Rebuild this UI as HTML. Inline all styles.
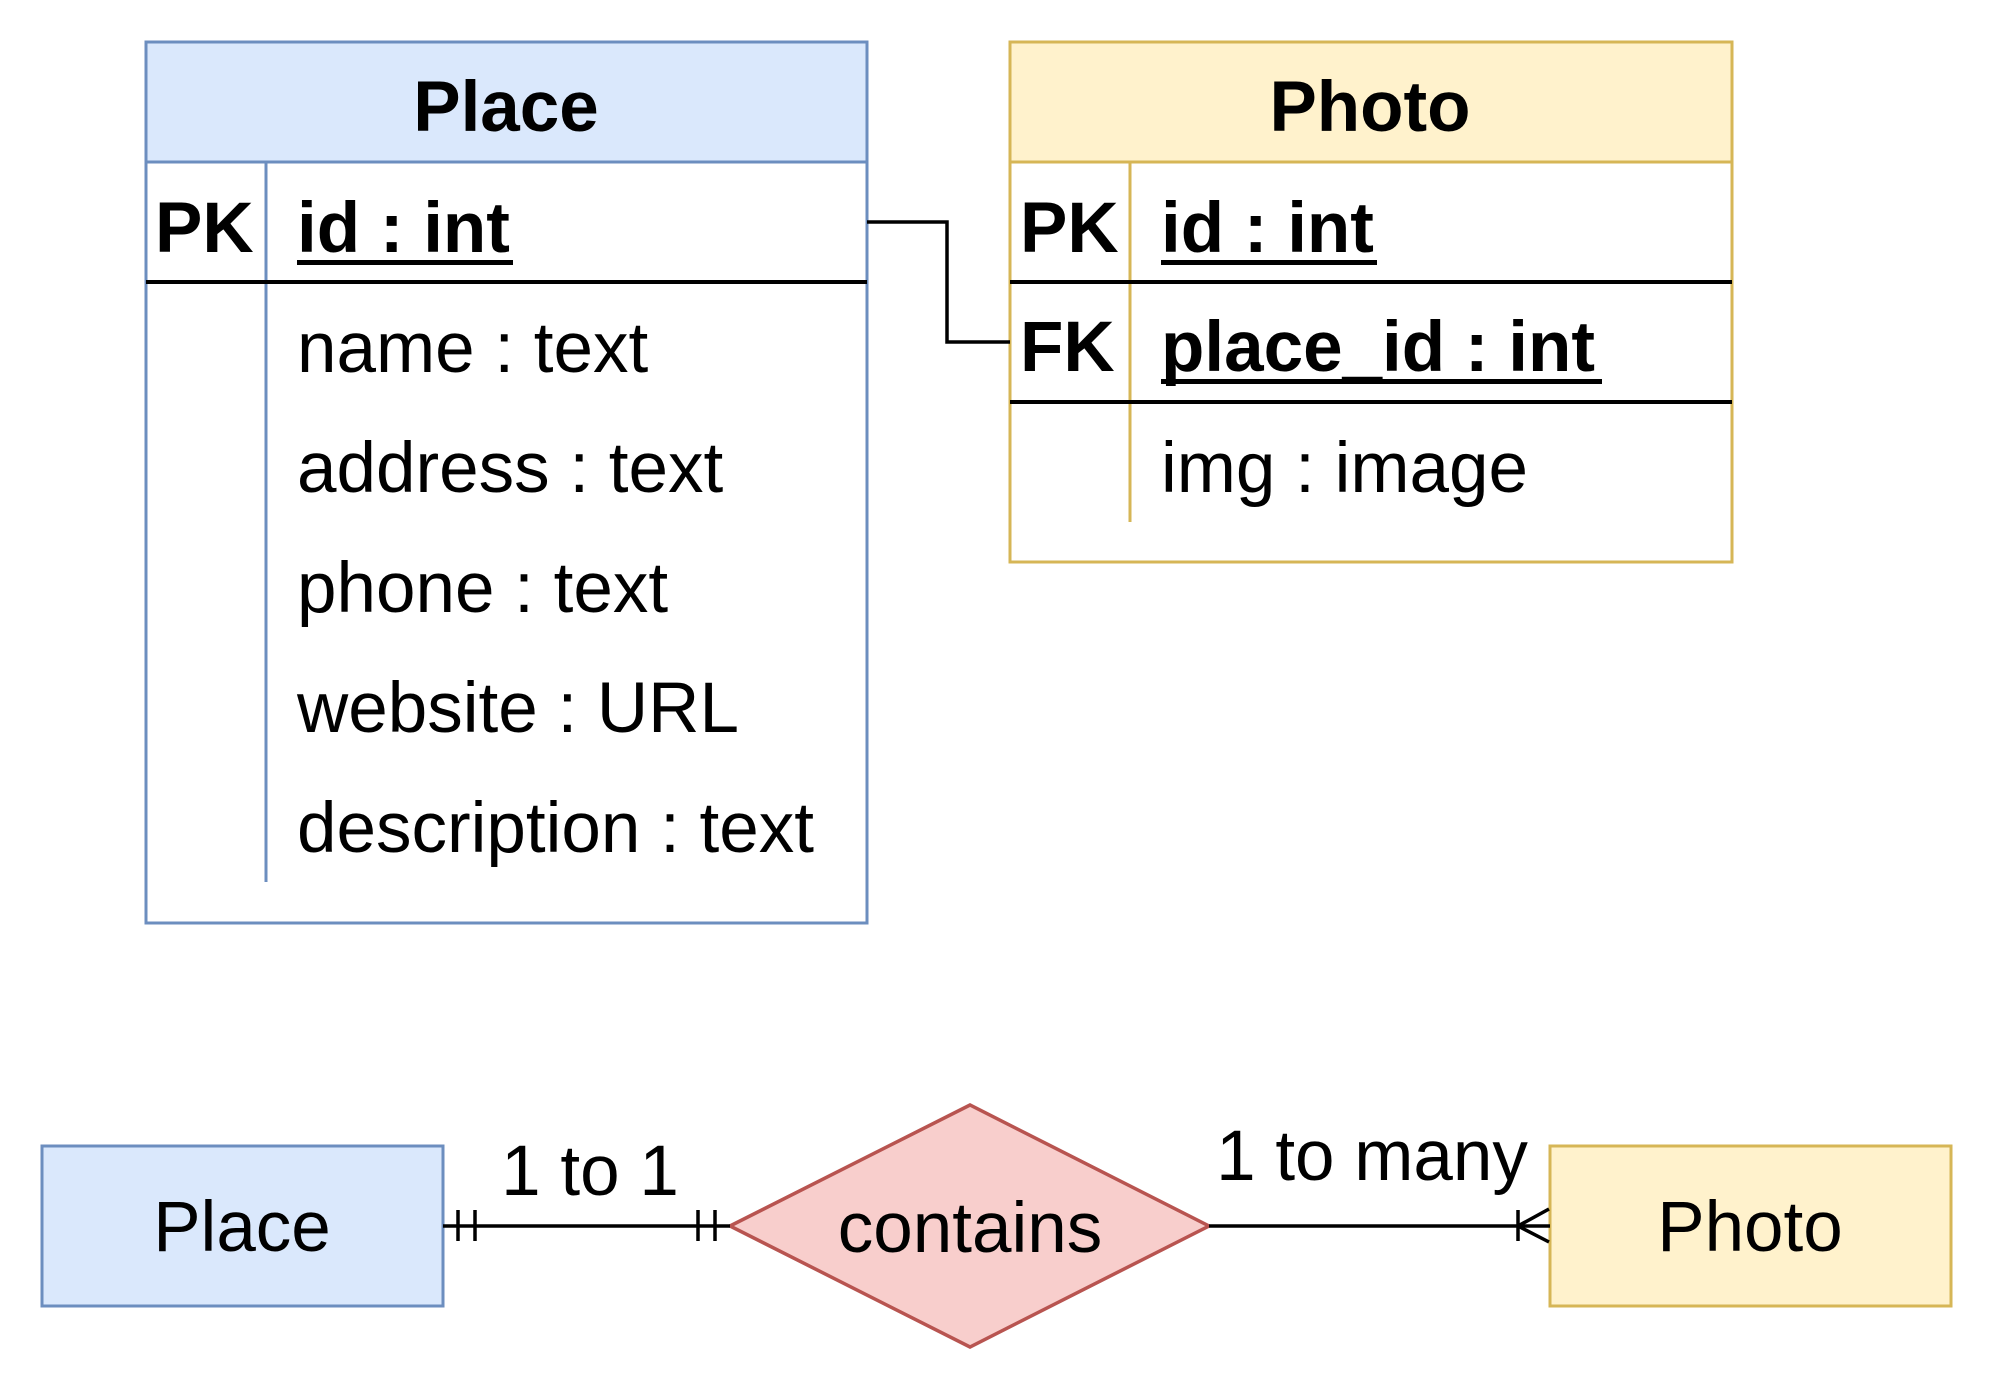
<!DOCTYPE html>
<html><head><meta charset="utf-8"><style>
html,body{margin:0;padding:0;background:#fff;}
svg{display:block;}
text{font-family:"Liberation Sans",Arial,sans-serif;fill:#000;}
</style></head><body>
<svg width="1992" height="1388" viewBox="0 0 1992 1388" xmlns="http://www.w3.org/2000/svg">
<!-- Place table -->
<rect x="146" y="42" width="721" height="881" fill="#fff" stroke="#6c8ebf" stroke-width="3"/>
<rect x="146" y="42" width="721" height="120" fill="#dae8fc" stroke="#6c8ebf" stroke-width="3"/>
<line x1="266" y1="162" x2="266" y2="882" stroke="#6c8ebf" stroke-width="3"/>
<line x1="146" y1="282" x2="867" y2="282" stroke="#000" stroke-width="4"/>
<text x="506" y="131" font-size="71" font-weight="bold" text-anchor="middle">Place</text>
<text x="155" y="252" font-size="71" font-weight="bold">PK</text>
<text x="297" y="252" font-size="71" font-weight="bold">id : int</text>
<rect x="297" y="260" width="216" height="5" fill="#000"/>
<text x="297" y="372" font-size="71">name : text</text>
<text x="297" y="492" font-size="71">address : text</text>
<text x="297" y="612" font-size="71">phone : text</text>
<text x="297" y="732" font-size="71">website : URL</text>
<text x="297" y="852" font-size="71">description : text</text>

<!-- Photo table -->
<rect x="1010" y="42" width="722" height="520" fill="#fff" stroke="#d6b656" stroke-width="3"/>
<rect x="1010" y="42" width="722" height="120" fill="#fff2cc" stroke="#d6b656" stroke-width="3"/>
<line x1="1130" y1="162" x2="1130" y2="522" stroke="#d6b656" stroke-width="3"/>
<line x1="1010" y1="282" x2="1732" y2="282" stroke="#000" stroke-width="4"/>
<line x1="1010" y1="402" x2="1732" y2="402" stroke="#000" stroke-width="4"/>
<text x="1370" y="131" font-size="71" font-weight="bold" text-anchor="middle">Photo</text>
<text x="1020" y="252" font-size="71" font-weight="bold">PK</text>
<text x="1161" y="252" font-size="71" font-weight="bold">id : int</text>
<rect x="1161" y="260" width="216" height="5" fill="#000"/>
<text x="1020" y="371" font-size="71" font-weight="bold">FK</text>
<text x="1161" y="371" font-size="71" font-weight="bold">place_id : int</text>
<rect x="1161" y="379" width="441" height="5" fill="#000"/>
<text x="1161" y="492" font-size="71">img : image</text>

<!-- FK connector -->
<polyline points="867,222 947,222 947,342 1010,342" fill="none" stroke="#000" stroke-width="3.5"/>

<!-- Bottom ER -->
<rect x="42" y="1146" width="401" height="160" fill="#dae8fc" stroke="#6c8ebf" stroke-width="3"/>
<text x="242" y="1251" font-size="71" text-anchor="middle">Place</text>
<rect x="1550" y="1146" width="401" height="160" fill="#fff2cc" stroke="#d6b656" stroke-width="3"/>
<text x="1750" y="1251" font-size="71" text-anchor="middle">Photo</text>
<polygon points="730,1226 970,1105 1209,1226 970,1347" fill="#f8cecc" stroke="#b85450" stroke-width="3.5"/>
<text x="970" y="1252" font-size="71" text-anchor="middle">contains</text>

<line x1="443" y1="1226" x2="730" y2="1226" stroke="#000" stroke-width="3.5"/>
<line x1="458" y1="1210" x2="458" y2="1241" stroke="#000" stroke-width="3.5"/>
<line x1="475" y1="1210" x2="475" y2="1241" stroke="#000" stroke-width="3.5"/>
<line x1="698" y1="1210" x2="698" y2="1241" stroke="#000" stroke-width="3.5"/>
<line x1="715" y1="1210" x2="715" y2="1241" stroke="#000" stroke-width="3.5"/>
<text x="590" y="1195" font-size="71" text-anchor="middle">1 to 1</text>

<line x1="1209" y1="1226" x2="1550" y2="1226" stroke="#000" stroke-width="3.5"/>
<line x1="1518" y1="1210" x2="1518" y2="1241" stroke="#000" stroke-width="3.5"/>
<polyline points="1549,1209 1518,1226 1549,1242" fill="none" stroke="#000" stroke-width="3.5"/>
<text x="1372" y="1180" font-size="71" text-anchor="middle">1 to many</text>
</svg>
</body></html>
